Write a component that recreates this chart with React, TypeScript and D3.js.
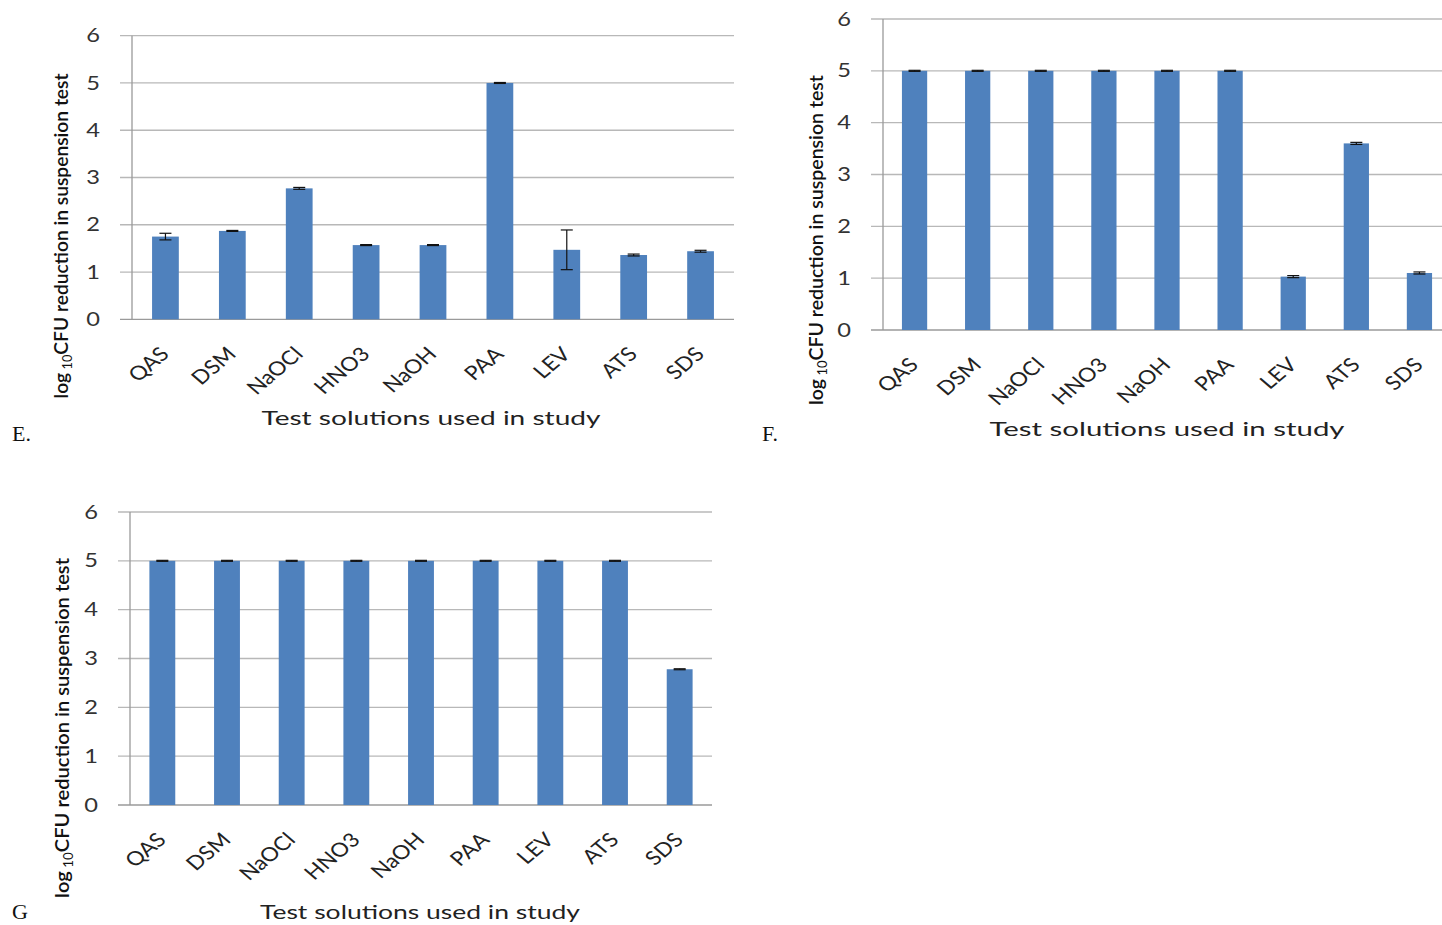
import React from "react";
import * as d3 from "d3";

// ---------- data ----------
const categories = ["QAS", "DSM", "NaOCl", "HNO3", "NaOH", "PAA", "LEV", "ATS", "SDS"];
const yTicks = [0, 1, 2, 3, 4, 5, 6];

const valuesE = [1.75, 1.87, 2.77, 1.57, 1.57, 5.0, 1.47, 1.36, 1.44];
const errorsE = [0.07, 0.01, 0.02, 0.01, 0.01, 0.01, 0.42, 0.02, 0.02];

const valuesF = [5, 5, 5, 5, 5, 5, 1.03, 3.6, 1.1];
const errorsF = [0.01, 0.01, 0.01, 0.01, 0.01, 0.01, 0.02, 0.02, 0.02];

const valuesG = [5, 5, 5, 5, 5, 5, 5, 5, 2.78];
const errorsG = [0.01, 0.01, 0.01, 0.01, 0.01, 0.01, 0.01, 0.01, 0.01];

const xTitle = "Test solutions used in study";
const panelLetters = ["E.", "F.", "G"];

// ---------- layout ----------
type Layout = {
  x0: number; x1: number; y0: number; y6: number;
  xTitleX: number; xTitleY: number; xTitleLen: number;
  yTitleX: number; yTitleY: number; yTitleLen: number;
  letterX: number; letterY: number;
};

const layouts: Layout[] = [
  { x0: 132, x1: 734, y0: 319.3, y6: 35.7, xTitleX: 431, xTitleY: 425, xTitleLen: 339,
    yTitleX: 68, yTitleY: 236, yTitleLen: 325, letterX: 12, letterY: 441 },
  { x0: 883, x1: 1451, y0: 330, y6: 19, xTitleX: 1167, xTitleY: 436, xTitleLen: 355,
    yTitleX: 823, yTitleY: 240, yTitleLen: 330, letterX: 762, letterY: 441 },
  { x0: 130, x1: 712, y0: 805, y6: 512, xTitleX: 420, xTitleY: 919, xTitleLen: 320,
    yTitleX: 69, yTitleY: 728, yTitleLen: 340, letterX: 12, letterY: 919 },
];

const BAR = "#4F81BD";
const GRID = "#b8b8b8";
const AXIS = "#9a9a9a";
const S = 1.28; // horizontal stretch of the text
const SL = 1.18; // stretch of the rotated category labels
const FONT = "Lato, 'Open Sans', sans-serif";

function Panel({ values, errors, L, letter }: { values: number[]; errors: number[]; L: Layout; letter: string }) {
  const x = d3.scaleBand<string>().domain(categories).range([L.x0, L.x1]).paddingInner(0.6).paddingOuter(0.3);
  const y = d3.scaleLinear().domain([0, 6]).range([L.y0, L.y6]);
  const bw = x.bandwidth();
  const cap = 12;
  return (
    <g>
      {yTicks.map((t) => (
        <g key={t}>
          <line x1={L.x0 - 12} x2={L.x1} y1={y(t)} y2={y(t)} stroke={t === 0 ? AXIS : GRID} strokeWidth={1.3} />
          <text
            transform={`translate(${L.x0 - 32},${y(t)}) scale(${S},1)`}
            dy="0.36em"
            textAnchor="end"
            fontFamily={FONT}
            fontSize={18.5}
            fill="#333"
          >
            {t}
          </text>
        </g>
      ))}
      <line x1={L.x0} x2={L.x0} y1={y(6)} y2={y(0)} stroke={AXIS} strokeWidth={1.3} />
      {categories.map((c, i) => {
        const cx = (x(c) as number) + bw / 2;
        const v = values[i];
        const e = errors[i];
        return (
          <g key={c}>
            <rect x={x(c)} y={y(v)} width={bw} height={y(0) - y(v)} fill={BAR} />
            <line x1={cx} x2={cx} y1={y(v + e)} y2={y(v - e)} stroke="#111" strokeWidth={1.2} />
            <line x1={cx - cap / 2} x2={cx + cap / 2} y1={y(v + e)} y2={y(v + e)} stroke="#111" strokeWidth={1.2} />
            <line x1={cx - cap / 2} x2={cx + cap / 2} y1={y(v - e)} y2={y(v - e)} stroke="#111" strokeWidth={1.2} />
            <text
              transform={`translate(${cx + 5},${y(0) + 36}) scale(${SL},1) rotate(-45)`}
              textAnchor="end"
              fontFamily={FONT}
              fontSize={19.5}
              fill="#222"
            >
              {c}
            </text>
          </g>
        );
      })}
      <text
        x={L.xTitleX}
        y={L.xTitleY}
        textAnchor="middle"
        fontFamily={FONT}
        fontSize={19}
        fill="#222"
        textLength={L.xTitleLen}
        lengthAdjust="spacingAndGlyphs"
      >
        {xTitle}
      </text>
      <text
        transform={`translate(${L.yTitleX},${L.yTitleY}) scale(${S},1) rotate(-90)`}
        textAnchor="middle"
        fontFamily={FONT}
        fontSize={15}
        fontWeight={600}
        fill="#111"
        textLength={L.yTitleLen}
        lengthAdjust="spacingAndGlyphs"
      >
        <tspan>log</tspan>
        <tspan fontSize={10} fontWeight={400} dy={3}> 10</tspan>
        <tspan dy={-3}>CFU reduction in suspension test</tspan>
      </text>
      <text x={L.letterX} y={L.letterY} fontFamily="'Liberation Serif', 'Times New Roman', serif" fontSize={22} fill="#111">
        {letter}
      </text>
    </g>
  );
}

export default function App() {
  const data = [
    { values: valuesE, errors: errorsE },
    { values: valuesF, errors: errorsF },
    { values: valuesG, errors: errorsG },
  ];
  return (
    <div style={{ position: "absolute", left: 0, top: 0 }}>
      <svg width={1442} height={925} style={{ display: "block", background: "#fff" }}>
        {data.map((d, i) => (
          <Panel key={i} values={d.values} errors={d.errors} L={layouts[i]} letter={panelLetters[i]} />
        ))}
      </svg>
    </div>
  );
}
